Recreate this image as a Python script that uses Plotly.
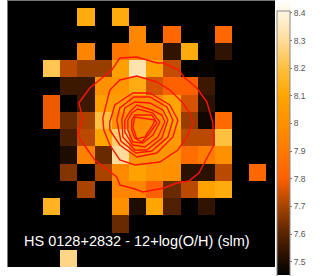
import plotly.graph_objects as go

_ = None
row_00 = [_]*16
row_01 = [_,_,_,_,8.12,_,8.12,_,_,_,_,_,_,_,_,_]
row_02 = [_,_,_,_,_,_,_,7.96,_,7.83,_,_,7.83,_,_,_]
row_03 = [_,_,_,_,7.95,_,7.88,7.95,7.95,7.53,8.12,_,7.53,_,_,_]
row_04 = [_,_,8.22,7.72,7.68,7.68,8.07,8.33,8.08,7.73,_,7.46,_,_,_,_]
row_05 = [_,_,_,7.55,7.55,8.0,8.03,8.13,7.75,7.8,7.8,7.55,_,_,_,_]
row_06 = [_,_,7.78,_,7.55,8.07,8.06,7.98,7.98,8.1,7.75,7.52,_,_,_,_]
row_07 = [_,_,7.78,7.62,7.7,8.2,8.0,7.98,8.0,8.1,7.68,7.48,7.84,_,_,_]
row_08 = [_,_,_,7.57,7.72,8.1,8.25,8.0,8.0,8.05,7.72,7.72,8.2,_,_,_]
row_09 = [_,_,_,7.5,7.93,7.62,8.3,8.03,8.03,8.02,7.85,7.92,8.0,_,_,_]
row_10 = [_,_,_,7.65,_,7.7,7.97,8.08,8.02,8.0,7.52,7.52,7.72,_,7.83,_]
row_11 = [_,_,_,_,7.7,_,7.95,7.95,7.8,7.62,7.72,8.08,8.12,_,_,_]
row_12 = [_,_,8.15,_,_,_,8.0,7.5,8.1,7.58,_,7.53,_,_,_,_]
row_13 = [_,_,_,_,_,_,7.62,_,_,_,_,_,_,_,_,_]
row_14 = [_]*16
row_15 = [_,_,_,8.28,_,_,_,_,_,_,_,_,_,_,_,_]
z_rows = [row_00,row_01,row_02,row_03,row_04,row_05,row_06,row_07,row_08,row_09,
          row_10,row_11,row_12,row_13,row_14,row_15]

tick_vals = [7.5,7.6,7.7,7.8,7.9,8.0,8.1,8.2,8.3,8.4]
tick_text = ["7.5","7.6","7.7","7.8","7.9","8","8.1","8.2","8.3","8.4"]
title_text = "HS 0128+2832 - 12+log(O/H) (slm)"

z_min, z_max = 7.45, 8.445
scale_levels = [7.45,7.6,7.7,7.8,7.9,8.0,8.1,8.2,8.3,8.445]
scale_colors = ["#000000","#5a2400","#a84400","#ff6000","#ff7a00","#ff9000","#ffa500","#ffc040","#ffdc9a","#ffffff"]

contour_x = [
 [120,137,157,164,179,184,197,207,213,214,207,199,189,177,164,143,135,120,117,95,83,78,83,79,90,102,112,120],
 [103,110,120,137,157,170,182,190,193,187,178,160,135,120,110,104,103],
 [110,115,133,150,170,178,173,157,137,120,110,110],
 [117,120,134,150,167,173,168,152,136,121,117],
 [122,125,135,150,163,168,162,147,135,123,122],
 [125,130,137,152,162,165,158,145,133,125,125],
 [128,132,138,153,160,153,143,133,128,128],
 [132,135,152,157,150,142,135,132,132],
 [133,135,155,153,145,137,133],
]
contour_y = [
 [58,57,63,63,70,77,88,102,123,145,158,173,181,183,188,192,189,185,177,160,143,135,118,103,88,78,70,58],
 [118,90,80,76,82,90,102,113,123,137,150,162,165,160,145,130,118],
 [122,105,93,93,105,120,137,153,157,145,130,122],
 [120,108,97,97,107,120,137,151,153,141,120],
 [120,108,102,103,110,120,138,150,150,137,120],
 [120,112,105,110,115,122,137,147,145,132,120],
 [120,113,109,113,122,135,143,142,130,120],
 [120,115,115,123,133,142,138,130,120],
 [127,117,120,125,137,139,127],
]

span = z_max - z_min
colorscale = [[(v - z_min) / span, c] for v, c in zip(scale_levels, scale_colors)]

fig = go.Figure()
fig.add_trace(go.Heatmap(
    z=z_rows, x0=17.53, dx=17.18, y0=-0.3, dy=17.23,
    zmin=z_min, zmax=z_max, colorscale=colorscale, hoverongaps=False,
    colorbar=dict(
        xref="container", yref="container", x=277/327, xanchor="left",
        y=1-0.5/276, yanchor="top", lenmode="pixels", len=275,
        thicknessmode="pixels", thickness=13, xpad=0, ypad=0,
        title=dict(text="", side="right"),
        outlinecolor="#888888", outlinewidth=1, borderwidth=0,
        tickmode="array", tickvals=tick_vals, ticktext=tick_text,
        ticks="outside", ticklen=2, tickcolor="#777777", tickwidth=1,
        tickfont=dict(family="Liberation Sans", size=8.5, color="#555555"),
    ),
))
for xs, ys in zip(contour_x, contour_y):
    fig.add_trace(go.Scatter(x=xs, y=ys, mode="lines", showlegend=False,
                             line=dict(color="#ff1400", width=1.4)))

fig.add_annotation(x=137.5, y=241, xref="x", yref="y", text=title_text, showarrow=False,
                   font=dict(family="Liberation Sans", size=14.5, color="white"))

fig.update_layout(
    width=327, height=276, showlegend=False,
    margin=dict(l=8.3, r=52, t=1, b=9, pad=0, autoexpand=False),
    paper_bgcolor="white", plot_bgcolor="black",
    xaxis=dict(range=[8.3,275], showgrid=False, zeroline=False, showticklabels=False, ticks="",
               showline=True, side="top", linecolor="#777777", linewidth=1),
    yaxis=dict(range=[267,1], showgrid=False, zeroline=False, showticklabels=False, ticks="",
               showline=True, side="left", linecolor="#777777", linewidth=1),
)
fig.write_html("out.html", config={"displayModeBar": False},
               post_script="document.body.style.margin='0';document.body.style.overflow='hidden';")
